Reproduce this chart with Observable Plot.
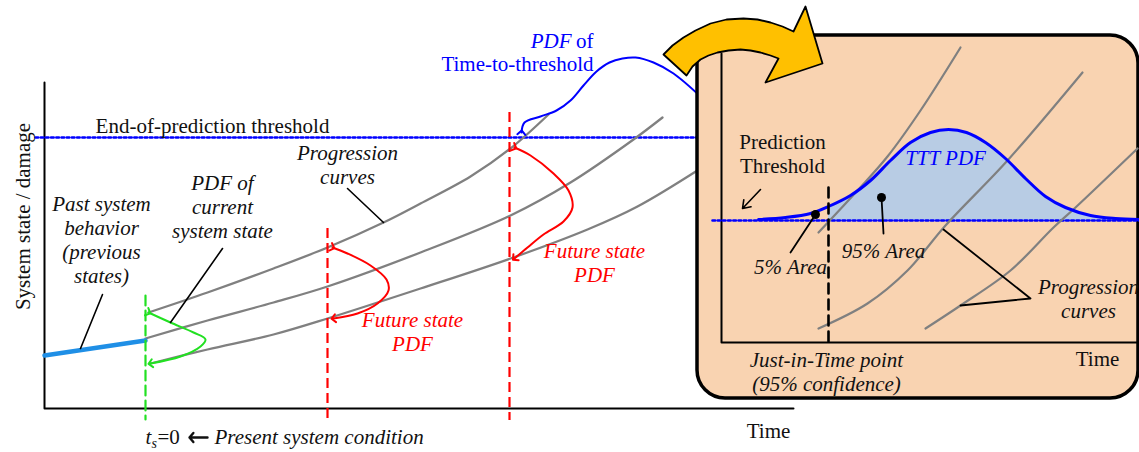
<!DOCTYPE html>
<html><head><meta charset="utf-8">
<script src="https://cdn.jsdelivr.net/npm/d3@7"></script>
<script src="https://cdn.jsdelivr.net/npm/@observablehq/plot@0.6"></script>
<style>body{margin:0;background:#fff;} svg{display:block} svg text{font-family:'Liberation Serif','Times New Roman',serif;}</style>
</head><body><div id="chart"></div>
<script>
// ---------- data (schematic units: time → right, damage → up on screen) ----------
const mainAxis = [[44,82],[44,408],[793,408]];
const endThreshold = [[35,137],[700,137]];
const pastStates = [[44,355],[145,340]];
const progTop = [[148,312],[207,292],[273,268],[327,247],[383,222],[420,203],[470,176],[510,148],[548,114]];
const progMid = [[145,338],[207,320],[273,302],[327,286],[420,252],[510,215],[570,182],[633,139],[662,117]];
const progBot = [[150,363],[207,349],[273,334],[327,318],[420,288],[510,258],[587,229],[637,206],[700,168]];
const presentLine = [[145,295],[145,419]];
const futureLines = [{t:327, top:228}, {t:509, top:112}];
const futureBottom = 420;
const currentPdf = [[148,312],[170,322],[193,332],[205,339],[200,346],[180,356],[150,363]];
const futurePdf1 = [[332,247],[347,253],[370,265],[386,279],[388,290],[377,303],[357,313],[333,318]];
const futurePdf2 = [[514,147],[530,155],[553,173],[568,190],[572,207],[563,221],[543,234],[527,247],[514,258]];
const tttMain = [[521,132],[524,122],[540,116],[556,110],[570,100],[583,85],[596,71],[609,62],[622,58],[635,57],[653,62],[673,73],[700,96]];
const mainPointers = [
  [[102,294],[80,348]],
  [[222,248],[170,322]],
  [[347,188],[383,222]]
];
const presentArrow = {x1:207, x2:189, y:437};

// inset
const insetBox = {x1:697, x2:1138, y1:35, y2:398};
const insetAxis = [[721,53],[721,342],[1145,342]];
const insetThreshold = [[712,220],[1139,220]];
const insetBase = 220;
const tttPdf = [[758,219],[785,217],[810,213],[828,206],[850,195],[870,180],[890,160],[910,142],[930,132],[948,129],[966,132],[985,142],[1005,158],[1025,178],[1045,196],[1065,207],[1090,215],[1115,218],[1139,219]];
const jitTime = 828;
const jitLine = [[828,187],[828,346]];
const insetCurves = [
  [[818,232],[857,190],[887,156],[920,110],[960,47]],
  [[818,328],[867,303],[907,270],[945,225],[1007,160],[1082,72]],
  [[925,328],[960,305],[1010,270],[1053,227],[1075,207],[1137,148]]
];
const areaDots = [[815,214],[881,197]];
const insetPointers = [
  [[815,214],[790,252]],
  [[881,197],[883,233]],
  [[943,229],[1030,298],[960,305]]
];
const thresholdArrow = {x1:760, y1:189, x2:742, y2:208};
const bigArrow = [[663,54],[672,45],[683,37],[695,30],[710,23],[726,19],[743,18],[757,19],[770,22],[782,26],[793,31],[805,6],[822,63],[765,82],[778,58],[770,55],[760,52],[750,50],[740,49],[728,50],[717,52],[708,55],[700,59],[692,66],[686,75]];

// labels
const blackItalic = [
  {x:101, y:282, text:"Past system\nbehavior\n(previous\nstates)"},
  {x:222, y:237, text:"PDF of\ncurrent\nsystem state"},
  {x:347, y:183, text:"Progression\ncurves"},
  {x:883, y:257, text:"95% Area"},
  {x:790, y:273, text:"5% Area"},
  {x:1088, y:317, text:"Progression\ncurves"},
  {x:826, y:390, text:"Just-in-Time point\n(95% confidence)"}
];
const blackRoman = [
  {x:212, y:132, text:"End-of-prediction threshold"},
  {x:768, y:437, text:"Time"},
  {x:782, y:172, text:"Prediction\nThreshold"},
  {x:1097, y:365, text:"Time"}
];
const redItalic = [
  {x:412, y:350, text:"Future state\nPDF"},
  {x:594, y:281, text:"Future state\nPDF"}
];
const yLabel = [{x:29, y:216, text:"System state / damage"}];

const pts = a => a.map(([x,y]) => ({x,y}));
const segs = list => list.flatMap((a,i) => a.map(([x,y]) => ({x,y,k:i})));
const serif = "'Liberation Serif', 'Times New Roman', serif";
const FS = 21, LH = 24/21;
const T = (o) => ({x:"x", y:"y", text:"text", fontSize:FS, fontFamily:serif, lineAnchor:"bottom", lineHeight:LH, fill:"#111", ...o});

const plot = Plot.plot({
  width: 1139, height: 452, margin: 0,
  x: {domain:[0,1139], range:[0,1139], axis:null},
  y: {domain:[0,452], range:[0,452], axis:null},
  style: {fontFamily: serif, fontSize: "21px", background: "white", overflow: "hidden"},
  marks: [
    // main chart
    Plot.line(pts(mainAxis), {x:"x", y:"y", stroke:"black", strokeWidth:2}),
    Plot.line(pts(endThreshold), {x:"x", y:"y", stroke:"#0000ff", strokeWidth:2.6, strokeDasharray:"2.6,2.6"}),
    Plot.line(segs([progTop, progMid, progBot]), {x:"x", y:"y", z:"k", stroke:"#808080", strokeWidth:2.3, curve:"catmull-rom"}),
    Plot.line(pts(pastStates), {x:"x", y:"y", stroke:"#1f8fe6", strokeWidth:4.5}),
    Plot.line(pts(presentLine), {x:"x", y:"y", stroke:"#22e022", strokeWidth:2.2, strokeDasharray:"10,5"}),
    Plot.ruleX(futureLines, {x:"t", y1:"top", y2:() => futureBottom, stroke:"#ff0000", strokeWidth:2.2, strokeDasharray:"10,5"}),
    Plot.line(pts(currentPdf), {x:"x", y:"y", stroke:"#22e022", strokeWidth:2, curve:"catmull-rom", markerStart:"arrow", markerEnd:"arrow"}),
    Plot.line(pts(futurePdf1), {x:"x", y:"y", stroke:"#ff0000", strokeWidth:2, curve:"catmull-rom", markerStart:"arrow", markerEnd:"arrow"}),
    Plot.line(pts(futurePdf2), {x:"x", y:"y", stroke:"#ff0000", strokeWidth:2, curve:"catmull-rom", markerStart:"arrow", markerEnd:"arrow"}),
    Plot.line(pts(tttMain), {x:"x", y:"y", stroke:"#0000ff", strokeWidth:2, curve:"catmull-rom", markerStart:"arrow"}),
    Plot.line(segs(mainPointers), {x:"x", y:"y", z:"k", stroke:"black", strokeWidth:1.6}),
    Plot.text(blackItalic.slice(0,3), T({fontStyle:"italic"})),
    Plot.text(blackRoman.slice(0,2), T({})),
    Plot.text(redItalic, T({fontStyle:"italic", fill:"#ff0000"})),
    Plot.text(yLabel, T({rotate:-90})),
    Plot.text([{x:571, y:47, text:"PDF"}], T({fontStyle:"italic", textAnchor:"end", fill:"#0000ff"})),
    Plot.text([{x:593, y:47, text:"of"}, {x:593, y:70, text:"Time-to-threshold"}], T({textAnchor:"end", fill:"#0000ff"})),
    Plot.text([{x:145, y:443, text:"t"}], T({fontStyle:"italic", textAnchor:"start"})),
    Plot.text([{x:151, y:447, text:"s"}], T({fontSize:14, fontStyle:"italic", textAnchor:"start"})),
    Plot.text([{x:157, y:443, text:"=0"}], T({textAnchor:"start"})),
    Plot.arrow([presentArrow], {x1:"x1", x2:"x2", y1:"y", y2:"y", stroke:"#111", strokeWidth:2.4, headLength:8, headAngle:100}),
    Plot.text([{x:214, y:443, text:"Present system condition"}], T({fontStyle:"italic", textAnchor:"start"})),

    // inset
    Plot.rect([insetBox], {x1:"x1", x2:"x2", y1:"y1", y2:"y2", rx:28, fill:"#f9d3b1", stroke:"black", strokeWidth:3.5}),
    Plot.line(pts(insetAxis), {x:"x", y:"y", stroke:"black", strokeWidth:2}),
    Plot.areaY(pts(tttPdf).filter(d => d.x >= jitTime), {x:"x", y1:() => insetBase, y2:"y", fill:"#b8cce4", curve:"catmull-rom"}),
    Plot.line(pts(insetThreshold), {x:"x", y:"y", stroke:"#0000ff", strokeWidth:2.6, strokeDasharray:"2.6,2.6"}),
    Plot.line(segs(insetCurves), {x:"x", y:"y", z:"k", stroke:"#808080", strokeWidth:2.2, curve:"catmull-rom"}),
    Plot.line(pts(tttPdf), {x:"x", y:"y", stroke:"#0000ff", strokeWidth:3, curve:"catmull-rom"}),
    Plot.line(pts(jitLine), {x:"x", y:"y", stroke:"black", strokeWidth:2.6, strokeDasharray:"10,6"}),
    Plot.line(segs(insetPointers), {x:"x", y:"y", z:"k", stroke:"black", strokeWidth:1.8}),
    Plot.dot(pts(areaDots), {x:"x", y:"y", r:4.5, fill:"black"}),
    Plot.arrow([thresholdArrow], {x1:"x1", y1:"y1", x2:"x2", y2:"y2", stroke:"black", strokeWidth:1.6, headLength:15, headAngle:70}),
    Plot.text(blackItalic.slice(3), T({fontStyle:"italic"})),
    Plot.text(blackRoman.slice(2), T({})),
    Plot.text([{x:945, y:164, text:"TTT PDF"}], T({fontStyle:"italic", fill:"#0000ff"})),

    // transition arrow
    Plot.line(pts(bigArrow), {x:"x", y:"y", fill:"#ffc000", stroke:"black", strokeWidth:1.8, curve:"linear-closed"})
  ]
});
document.getElementById("chart").appendChild(plot);
</script>
</body></html>
